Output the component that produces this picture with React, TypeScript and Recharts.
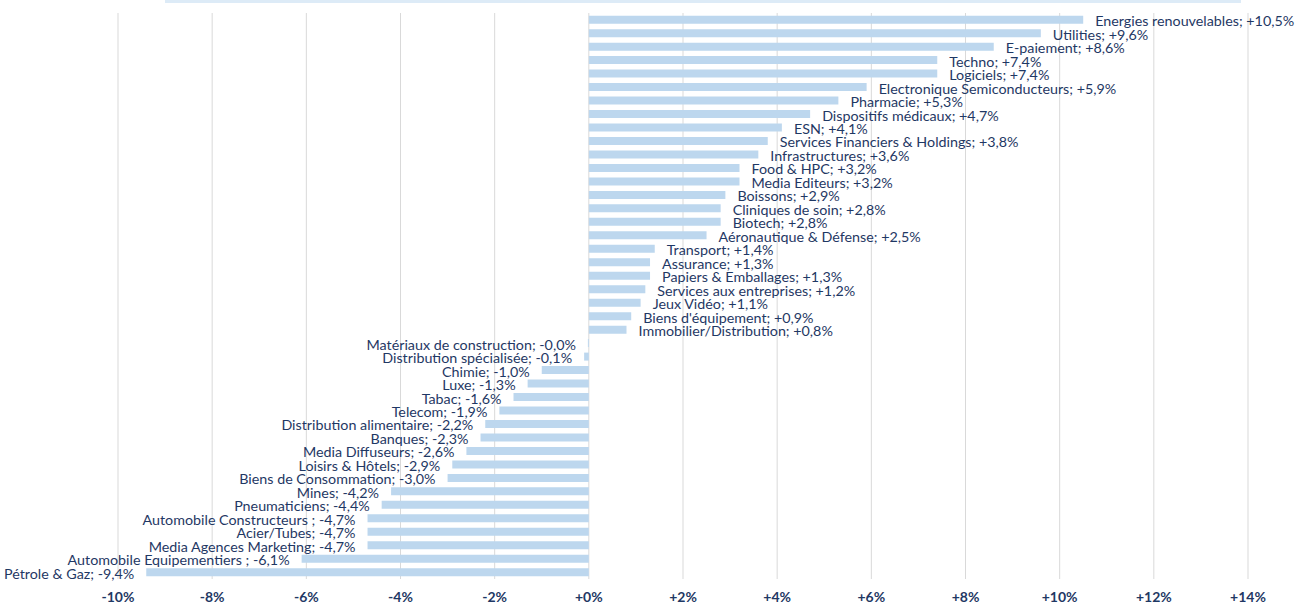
import React from "react";
import { BarChart, Bar, XAxis, YAxis, CartesianGrid, LabelList } from "recharts";

const sectors: string[] = [
  "Energies renouvelables",
  "Utilities",
  "E-paiement",
  "Techno",
  "Logiciels",
  "Electronique Semiconducteurs",
  "Pharmacie",
  "Dispositifs médicaux",
  "ESN",
  "Services Financiers & Holdings",
  "Infrastructures",
  "Food & HPC",
  "Media Editeurs",
  "Boissons",
  "Cliniques de soin",
  "Biotech",
  "Aéronautique & Défense",
  "Transport",
  "Assurance",
  "Papiers & Emballages",
  "Services aux entreprises",
  "Jeux Vidéo",
  "Biens d'équipement",
  "Immobilier/Distribution",
  "Matériaux de construction",
  "Distribution spécialisée",
  "Chimie",
  "Luxe",
  "Tabac",
  "Telecom",
  "Distribution alimentaire",
  "Banques",
  "Media Diffuseurs",
  "Loisirs & Hôtels",
  "Biens de Consommation",
  "Mines",
  "Pneumaticiens",
  "Automobile Constructeurs ",
  "Acier/Tubes",
  "Media Agences Marketing",
  "Automobile Equipementiers ",
  "Pétrole & Gaz",
];

const performance: number[] = [
  10.5, 9.6, 8.6, 7.4, 7.4, 5.9, 5.3, 4.7, 4.1, 3.8, 3.6, 3.2, 3.2, 2.9, 2.8, 2.8, 2.5,
  1.4, 1.3, 1.3, 1.2, 1.1, 0.9, 0.8, -0.02, -0.1, -1.0, -1.3, -1.6, -1.9, -2.2, -2.3,
  -2.6, -2.9, -3.0, -4.2, -4.4, -4.7, -4.7, -4.7, -6.1, -9.4,
];

const xTicks: number[] = [-10, -8, -6, -4, -2, 0, 2, 4, 6, 8, 10, 12, 14];

const data = sectors.map((name, i) => ({ name, value: performance[i] }));

const NAVY = "#1F3864";
const BAR = "#BDD7EE";
const FONT = "Lato, 'Open Sans', sans-serif";

const fmtPct = (v: number) => {
  const s = v.toFixed(1).replace(".", ",");
  return (v >= 0 ? "+" : "") + s + "%";
};

const tickFmt = (v: number) => (v >= 0 ? "+" : "") + v + "%";

const BarLabel = (props: any) => {
  const { x, y, width, height, index } = props;
  const v = performance[index];
  const left = Math.min(x, x + width);
  const right = Math.max(x, x + width);
  const gap = 12;
  const pos = v >= 0;
  return (
    <text
      x={pos ? right + gap : left - gap}
      y={y + height / 2 + 1}
      textAnchor={pos ? "start" : "end"}
      dominantBaseline="central"
      fill={NAVY}
      fontSize={14.3}
      fontFamily={FONT}
    >
      {sectors[index] + "; " + fmtPct(v)}
    </text>
  );
};

export default function App() {
  return (
    <div style={{ position: "absolute", top: 0, left: 0, width: 1303, height: 606, background: "#fff" }}>
      <div
        style={{
          position: "absolute",
          top: 0,
          left: 165,
          width: 1076,
          height: 3,
          background: "#DDEBF7",
        }}
      />
      <BarChart
        width={1303}
        height={606}
        data={data}
        layout="vertical"
        margin={{ top: 13, right: 55, bottom: 0, left: 118 }}
        barCategoryGap="20%"
      >
        <CartesianGrid horizontal={false} vertical={true} stroke="#D9D9D9" strokeWidth={1} />
        <XAxis
          type="number"
          domain={[-10, 14]}
          ticks={xTicks}
          tickFormatter={tickFmt}
          axisLine={false}
          tickLine={false}
          tickMargin={7}
          height={27}
          interval={0}
          tick={{ fill: NAVY, fontSize: 14, fontWeight: 700, fontFamily: FONT }}
        />
        <YAxis type="category" dataKey="name" hide width={0} />
        <Bar dataKey="value" fill={BAR} isAnimationActive={false}>
          <LabelList dataKey="value" content={<BarLabel />} />
        </Bar>
      </BarChart>
    </div>
  );
}
